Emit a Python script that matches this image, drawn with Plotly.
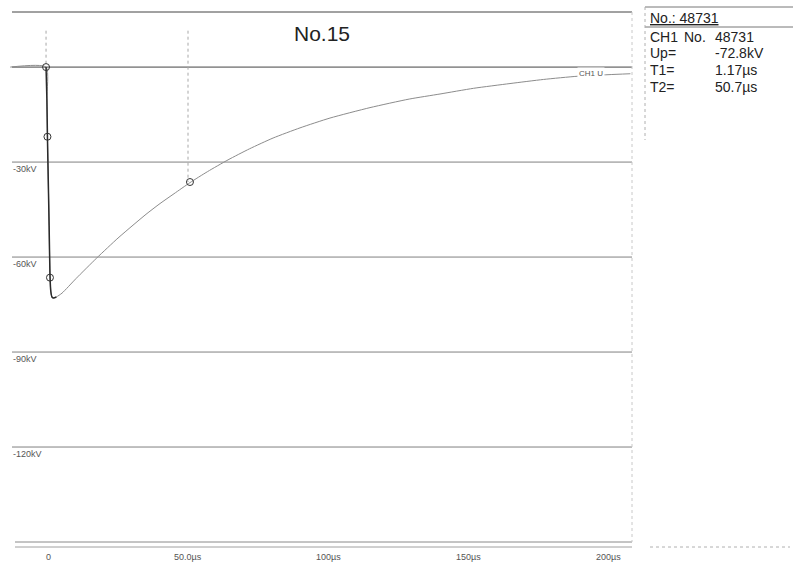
import plotly.graph_objects as go

W, H = 793, 563

# ---- data ----
curve_t = [-13.5, -0.7, -0.4, -0.2, 0.1, 0.4, 0.7, 1.0, 1.4, 2.0, 3.0, 5.0, 10.0, 17.4, 25.0,
           30.0, 35.0, 40.0, 45.0, 50.7, 57.0, 64.3, 72.0, 80.4, 90.0, 100.7, 115.0, 129.0,
           140.0, 152.0, 165.0, 177.0, 189.0, 200.0, 208.0]
curve_kv = [0.0, 0.0, -10.0, -22.0, -36.0, -50.0, -65.5, -70.8, -72.6, -72.9, -72.6, -71.4,
            -66.8, -60.3, -54.0, -50.2, -46.5, -43.1, -40.0, -36.5, -33.0, -29.3, -25.8, -22.4,
            -19.2, -16.1, -12.8, -10.1, -8.5, -6.7, -5.2, -3.9, -2.9, -2.4, -2.1]

marker_t = [-0.7, -0.2, 0.7, 50.7]
marker_kv = [0.0, -22.0, -66.5, -36.3]

cursor_t = [-0.7, 50.0]
cursor_kv_end = [0.0, -36.3]
cursor_kv_top = 11.5

y_tick_vals = [-30, -60, -90, -120]
y_tick_labels = ["-30kV", "-60kV", "-90kV", "-120kV"]
grid_vals = [0, -30, -60, -90, -120]

x_tick_vals = [0, 50, 100, 150, 200]
x_tick_labels = ["0", "50.0\u00b5s", "100\u00b5s", "150\u00b5s", "200\u00b5s"]

title_text = "No.15"
channel_label = "CH1 U"
info_header = "No.: 48731"
info_keys = ["CH1", "Up=", "T1=", "T2="]
info_vals = ["48731", "-72.8kV", "1.17\u00b5s", "50.7\u00b5s"]

# ---- layout geometry ----
X_RANGE = [-13.57, 208.57]
Y_RANGE = [-150.0, 17.4]
PX_L, PX_R, PY_T, PY_B = 10, 632, 12, 542


def px(x):
    return x / W


def py(y):
    return 1 - y / H


fig = go.Figure()

# cursor lines
for ct, ce in zip(cursor_t, cursor_kv_end):
    fig.add_trace(go.Scatter(x=[ct, ct], y=[cursor_kv_top, ce], mode="lines",
                             line=dict(color="#a8a8a8", width=1, dash="dot"),
                             hoverinfo="skip", showlegend=False))

# tail lighter, leading edge darker
fig.add_trace(go.Scatter(x=curve_t, y=curve_kv, mode="lines",
                         line=dict(color="#8c8c8c", width=1, shape="spline", smoothing=0.6),
                         hoverinfo="skip", showlegend=False))
edge_n = 11
fig.add_trace(go.Scatter(x=curve_t[1:edge_n], y=curve_kv[1:edge_n], mode="lines",
                         line=dict(color="#2a2a2a", width=1.5, shape="spline", smoothing=0.5),
                         hoverinfo="skip", showlegend=False))

fig.add_trace(go.Scatter(x=marker_t, y=marker_kv, mode="markers",
                         marker=dict(symbol="circle-open", size=7, color="#333333",
                                     line=dict(color="#333333", width=1)),
                         hoverinfo="skip", showlegend=False))

shapes = []
for g in grid_vals:
    shapes.append(dict(type="line", xref="paper", yref="y", x0=px(PX_L + 2), x1=px(PX_R),
                       y0=g, y1=g,
                       line=dict(color="#444444" if g == 0 else "#808080", width=1), layer="below"))
# top border
shapes.append(dict(type="line", xref="paper", yref="paper", x0=px(PX_L + 2), x1=px(PX_R),
                   y0=py(PY_T), y1=py(PY_T), line=dict(color="#444444", width=1)))
# bottom double line
for yb, c in [(PY_B, "#8a8a8a"), (PY_B + 5, "#a0a0a0")]:
    shapes.append(dict(type="line", xref="paper", yref="paper", x0=px(PX_L + 5), x1=px(PX_R),
                       y0=py(yb), y1=py(yb), line=dict(color=c, width=1)))
shapes.append(dict(type="line", xref="paper", yref="paper", x0=px(650), x1=px(790),
                   y0=py(PY_B + 5), y1=py(PY_B + 5),
                   line=dict(color="#b0b0b0", width=1, dash="dot")))
# right border of plot (dotted)
shapes.append(dict(type="line", xref="paper", yref="paper", x0=px(PX_R), x1=px(PX_R),
                   y0=py(PY_T), y1=py(PY_B), line=dict(color="#c8c8c8", width=1, dash="dot")))
# info panel
shapes.append(dict(type="line", xref="paper", yref="paper", x0=px(645), x1=px(793),
                   y0=py(7), y1=py(7), line=dict(color="#777777", width=1)))
shapes.append(dict(type="line", xref="paper", yref="paper", x0=px(645), x1=px(793),
                   y0=py(27), y1=py(27), line=dict(color="#777777", width=1)))
shapes.append(dict(type="line", xref="paper", yref="paper", x0=px(645), x1=px(645),
                   y0=py(7), y1=py(140), line=dict(color="#b0b0b0", width=1, dash="dot")))

annotations = []
for v, lab in zip(y_tick_vals, y_tick_labels):
    annotations.append(dict(x=px(11), xref="paper", y=v, yref="y", yshift=-7,
                            text=lab, showarrow=False, xanchor="left", yanchor="middle",
                            font=dict(size=9, color="#555555", family="Liberation Sans")))
for v, lab in zip(x_tick_vals, x_tick_labels):
    annotations.append(dict(x=v, xref="x", y=py(557), yref="paper",
                            text=lab, showarrow=False, xanchor="center", yanchor="middle",
                            font=dict(size=9, color="#555555", family="Liberation Sans")))
annotations.append(dict(x=px(322), y=py(33), xref="paper", yref="paper", text=title_text,
                        showarrow=False, xanchor="center", yanchor="middle",
                        font=dict(size=21, color="#222222", family="Liberation Sans")))
annotations.append(dict(x=194, xref="x", y=-1.9, yref="y", text=channel_label,
                        showarrow=False, xanchor="center", yanchor="middle", bgcolor="white",
                        font=dict(size=8, color="#555555", family="Liberation Sans")))
annotations.append(dict(x=px(648), y=py(18), xref="paper", yref="paper",
                        text="<u>" + info_header + "</u>", showarrow=False,
                        xanchor="left", yanchor="middle",
                        font=dict(size=14, color="#222222", family="Liberation Sans")))
row_y = [37, 53, 70, 87]
for k, v, ry in zip(info_keys, info_vals, row_y):
    annotations.append(dict(x=px(648), y=py(ry), xref="paper", yref="paper", text=k,
                            showarrow=False, xanchor="left", yanchor="middle",
                            font=dict(size=14, color="#222222", family="Liberation Sans")))
    annotations.append(dict(x=px(713), y=py(ry), xref="paper", yref="paper", text=v,
                            showarrow=False, xanchor="left", yanchor="middle",
                            font=dict(size=14, color="#222222", family="Liberation Sans")))
annotations.append(dict(x=px(682), y=py(37), xref="paper", yref="paper", text="No.",
                        showarrow=False, xanchor="left", yanchor="middle",
                        font=dict(size=14, color="#222222", family="Liberation Sans")))

fig.update_layout(
    width=W, height=H,
    margin=dict(l=0, r=0, t=0, b=0),
    paper_bgcolor="white", plot_bgcolor="white",
    xaxis=dict(domain=[px(PX_L), px(PX_R)], range=X_RANGE, showgrid=False, zeroline=False,
               showticklabels=False, ticks="", showline=False, fixedrange=True),
    yaxis=dict(domain=[py(PY_B), py(PY_T)], range=Y_RANGE, showgrid=False, zeroline=False,
               showticklabels=False, ticks="", showline=False, fixedrange=True),
    shapes=shapes, annotations=annotations,
)

fig.write_html("out.html", config={"displayModeBar": False},
               post_script="document.body.style.margin='0';document.body.style.overflow='hidden';")
